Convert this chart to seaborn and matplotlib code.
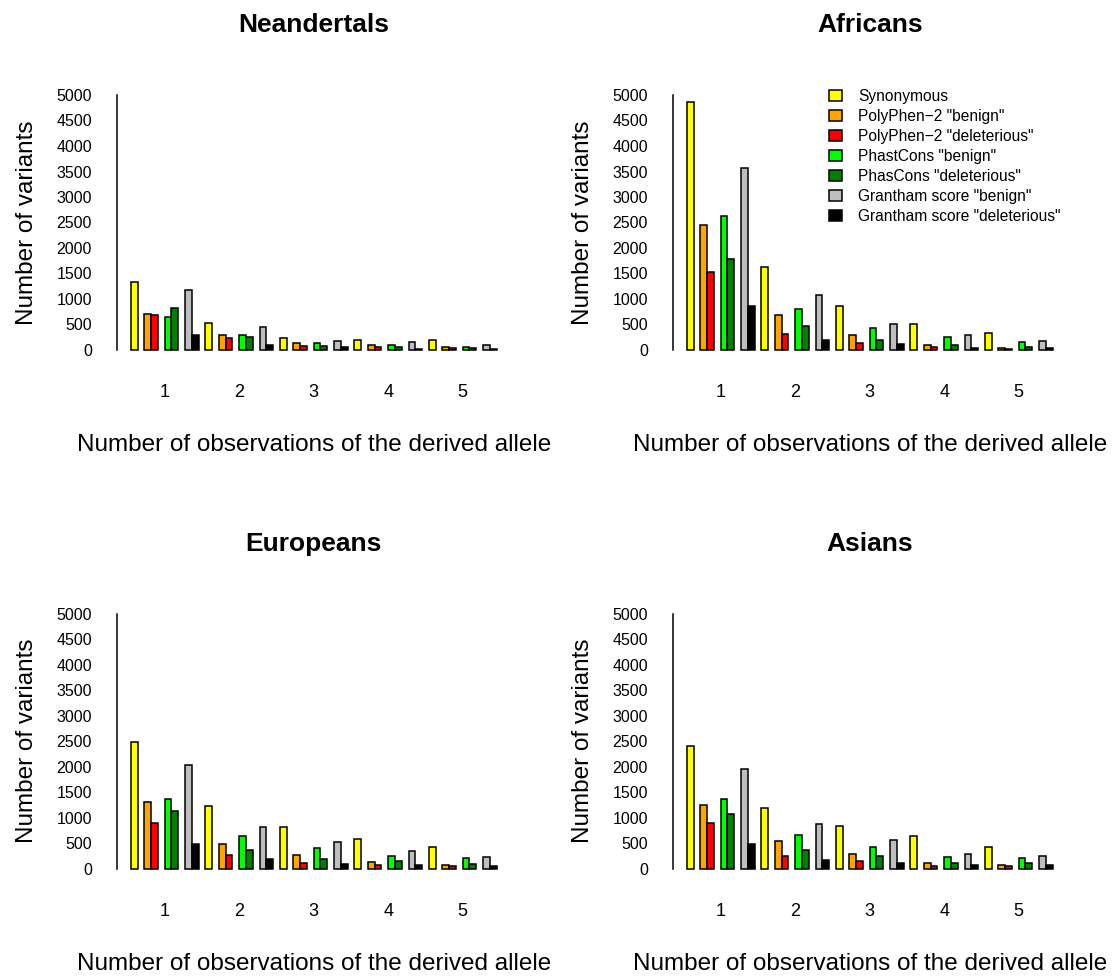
import matplotlib
matplotlib.use("Agg")
import matplotlib.pyplot as plt
from matplotlib.patches import Patch
import seaborn as sns
import pandas as pd

# Derived-allele observation counts (x categories)
observations = ["1", "2", "3", "4", "5"]

# Variant classes and their fill colours
classes = [
    "Synonymous",
    'PolyPhen\u22122 "benign"',
    'PolyPhen\u22122 "deleterious"',
    'PhastCons "benign"',
    'PhasCons "deleterious"',
    'Grantham score "benign"',
    'Grantham score "deleterious"',
]
class_colors = ["#FFFF00", "#FFA500", "#FF0000", "#00FF00", "#008000", "#BEBEBE", "#000000"]

# Number of variants per class (rows) for 1..5 observations (columns)
neandertals = [
    [1330, 525, 230, 195, 190],
    [710, 300, 145, 95, 65],
    [680, 230, 85, 60, 40],
    [650, 290, 145, 105, 65],
    [830, 250, 85, 60, 45],
    [1180, 450, 185, 155, 100],
    [300, 90, 50, 20, 20],
]
africans = [
    [4870, 1620, 865, 515, 325],
    [2450, 695, 285, 100, 45],
    [1520, 310, 130, 60, 25],
    [2630, 800, 425, 250, 150],
    [1790, 470, 195, 100, 65],
    [3560, 1080, 515, 300, 175],
    [870, 200, 110, 45, 40],
]
europeans = [
    [2490, 1225, 810, 590, 425],
    [1300, 485, 260, 135, 70],
    [890, 260, 110, 70, 45],
    [1370, 635, 410, 255, 200],
    [1135, 360, 195, 150, 85],
    [2030, 810, 520, 340, 220],
    [480, 195, 85, 65, 60],
]
asians = [
    [2415, 1190, 835, 635, 425],
    [1255, 535, 285, 120, 80],
    [900, 255, 150, 60, 45],
    [1375, 660, 420, 235, 210],
    [1065, 370, 255, 120, 105],
    [1960, 875, 560, 295, 250],
    [490, 170, 120, 65, 65],
]

panels = [
    ("Neandertals", neandertals),
    ("Africans", africans),
    ("Europeans", europeans),
    ("Asians", asians),
]

yticks = [0, 500, 1000, 1500, 2000, 2500, 3000, 3500, 4000, 4500, 5000]

sns.set_style("white")
plt.rcParams["font.family"] = ["Liberation Sans", "DejaVu Sans"]
plt.rcParams.update({
    "text.color": "black",
    "axes.labelcolor": "black",
    "axes.titlecolor": "black",
    "xtick.color": "black",
    "ytick.color": "black",
    "xtick.labelcolor": "black",
    "ytick.labelcolor": "black",
})

# Empty slots between the class pairs inside each group
spacers = [" ", "  ", "   "]
hue_levels = [classes[0], spacers[0], classes[1], classes[2], spacers[1],
              classes[3], classes[4], spacers[2], classes[5], classes[6]]
palette = dict(zip(classes, class_colors))
palette.update({s: "#FFFFFF" for s in spacers})

W, H = 1115, 976
fig = plt.figure(figsize=(W / 100, H / 100), dpi=100)

xlim = (-0.64, 4.64)
ax_w = 393.4 / W
ax_h = 275.4 / H
lefts = [117 / W, 673 / W]
bottoms = [1 - 360.2 / H, 1 - 878.9 / H]

axes = []
for i, (title, values) in enumerate(panels):
    row, col = divmod(i, 2)
    ax = fig.add_axes([lefts[col], bottoms[row], ax_w, ax_h])
    axes.append(ax)

    df = pd.DataFrame(
        [(obs, cls, values[ci][oi])
         for ci, cls in enumerate(classes)
         for oi, obs in enumerate(observations)],
        columns=["obs", "cls", "count"],
    )
    sns.barplot(
        data=df, x="obs", y="count", hue="cls",
        order=observations, hue_order=hue_levels, palette=palette,
        width=10 / 11, edgecolor="black", linewidth=1.1,
        saturation=1, errorbar=None, legend=False, ax=ax,
    )

    ax.set_xlim(*xlim)
    ax.set_ylim(-200, 5200)
    ax.set_yticks(yticks)
    ax.set_yticklabels([str(t) for t in yticks], fontsize=11.5)
    ax.tick_params(axis="y", length=9, width=1.1, pad=9, color="black")
    ax.tick_params(axis="x", length=0, pad=17, labelsize=13)
    for s in ["top", "right", "bottom"]:
        ax.spines[s].set_visible(False)
    ax.spines["left"].set_bounds(0, 5000)
    ax.spines["left"].set_linewidth(1.1)
    ax.spines["left"].set_color("black")
    ax.set_xlabel("Number of observations of the derived allele", fontsize=17.5, labelpad=24)
    ax.set_ylabel("Number of variants", fontsize=17.5, labelpad=13)
    ax.set_title(title, fontsize=19, fontweight="bold", pad=38)
    ax.grid(False)

handles = [Patch(facecolor=c, edgecolor="black", linewidth=1.1, label=l)
           for l, c in zip(classes, class_colors)]
axes[1].legend(
    handles=handles, loc="upper left",
    bbox_to_anchor=(829 / W, 1 - 89 / H), bbox_transform=fig.transFigure,
    frameon=False, fontsize=11.2, handlelength=0.85, handleheight=0.65,
    handletextpad=1.0, labelspacing=0.32, borderpad=0, borderaxespad=0,
)

fig.savefig("out.png", dpi=100)
